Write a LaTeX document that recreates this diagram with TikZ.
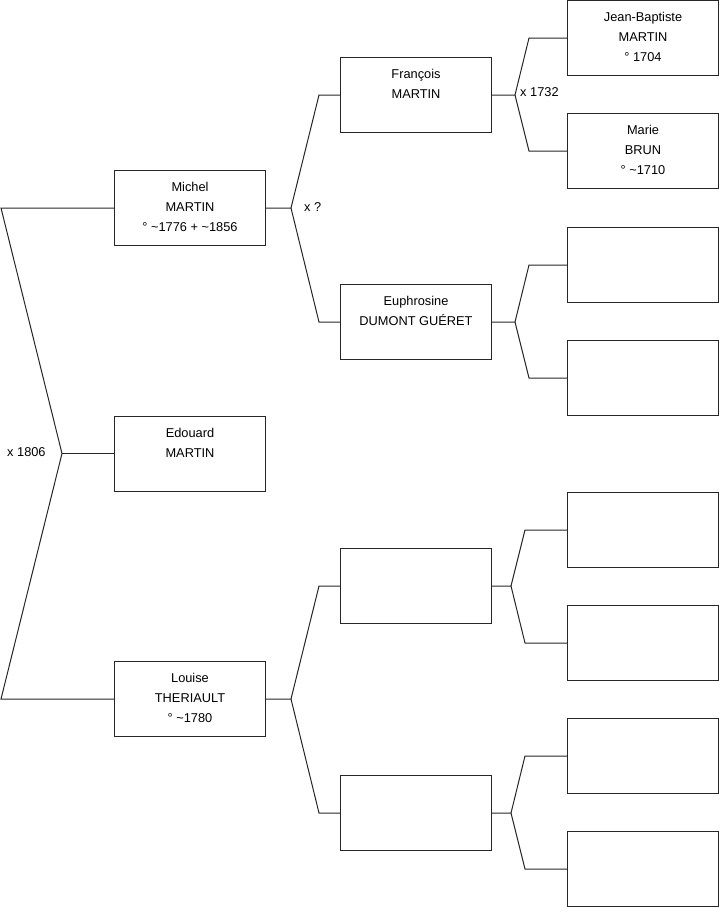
\documentclass[tikz,border=0pt]{standalone}
\usepackage{fontspec}
\setmainfont{Liberation Sans}
\begin{document}
\begin{tikzpicture}[x=1pt,y=-1pt,
  box/.style={draw=black!85,line width=1pt,rectangle,minimum width=151pt,minimum height=75pt,inner sep=0pt,outer sep=0pt,anchor=west},
  txt/.style={anchor=north,align=center,inner sep=0pt,font=\fontsize{12.8}{20}\selectfont},
  lbl/.style={anchor=west,inner sep=0pt,font=\fontsize{12.8}{15}\selectfont},
  link/.style={draw=black!85,line width=1pt}]
\useasboundingbox (0,0) rectangle (719,908);
% generation 1
\node[box] (michel) at (114.5,208) {};
\node[box] (edouard) at (114.5,453.5) {};
\node[box] (louise) at (114.5,699) {};
% generation 2
\node[box] (francois) at (340.5,95) {};
\node[box] (euphrosine) at (340.5,322) {};
\node[box] (lp) at (340.5,586) {};
\node[box] (lm) at (340.5,813) {};
% generation 3
\node[box] (jb) at (567.5,38) {};
\node[box] (marie) at (567.5,151) {};
\node[box] (ep) at (567.5,265) {};
\node[box] (em) at (567.5,378) {};
\node[box] (lpp) at (567.5,530) {};
\node[box] (lpm) at (567.5,643) {};
\node[box] (lmp) at (567.5,756) {};
\node[box] (lmm) at (567.5,869) {};
% texts
\node[txt] (tmichel) at ([yshift=-12pt]michel.north) {Michel\\MARTIN\\° \textasciitilde1776 + \textasciitilde1856};
\node[txt] (tedouard) at ([yshift=-12pt]edouard.north) {Edouard\\MARTIN};
\node[txt] (tlouise) at ([yshift=-12pt]louise.north) {Louise\\THERIAULT\\° \textasciitilde1780};
\node[txt] (tfrancois) at ([yshift=-12pt]francois.north) {François\\MARTIN};
\node[txt] (teuphrosine) at ([yshift=-12pt]euphrosine.north) {Euphrosine\\DUMONT GUÉRET};
\node[txt] (tjb) at ([yshift=-12pt]jb.north) {Jean-Baptiste\\MARTIN\\° 1704};
\node[txt] (tmarie) at ([yshift=-12pt]marie.north) {Marie\\BRUN\\° \textasciitilde1710};
% joints
\coordinate (r0) at (1,208);
\coordinate (r1) at (62,453.5);
\coordinate (r2) at (1,699);
\coordinate (mj) at (291,208);
\coordinate (mu) at (319,95);
\coordinate (md) at (319,322);
\coordinate (fj) at (515,95);
\coordinate (fu) at (529,38);
\coordinate (fd) at (529,151);
\coordinate (ej) at (515,322);
\coordinate (eu) at (529,265);
\coordinate (ed) at (529,378);
\coordinate (lj) at (291,699);
\coordinate (lu) at (319,586);
\coordinate (ld) at (319,813);
\coordinate (aj) at (511,586);
\coordinate (au) at (525,530);
\coordinate (ad) at (525,643);
\coordinate (bj) at (511,813);
\coordinate (bu) at (525,756);
\coordinate (bd) at (525,869);
% connectors
\draw[link] (michel.west) -- (r0) -- (r1) -- (r2) -- (louise.west);
\draw[link] (r1) -- (edouard.west);
\draw[link] (michel.east) -- (mj) -- (mu) -- (francois.west);
\draw[link] (mj) -- (md) -- (euphrosine.west);
\draw[link] (francois.east) -- (fj) -- (fu) -- (jb.west);
\draw[link] (fj) -- (fd) -- (marie.west);
\draw[link] (euphrosine.east) -- (ej) -- (eu) -- (ep.west);
\draw[link] (ej) -- (ed) -- (em.west);
\draw[link] (louise.east) -- (lj) -- (lu) -- (lp.west);
\draw[link] (lj) -- (ld) -- (lm.west);
\draw[link] (lp.east) -- (aj) -- (au) -- (lpp.west);
\draw[link] (aj) -- (ad) -- (lpm.west);
\draw[link] (lm.east) -- (bj) -- (bu) -- (lmp.west);
\draw[link] (bj) -- (bd) -- (lmm.west);
% marriage labels
\node[lbl] (x1806) at (7,452) {x 1806};
\node[lbl] (xq) at (304,207) {x ?};
\node[lbl] (x1732) at (520,92) {x 1732};
\end{tikzpicture}
\end{document}
